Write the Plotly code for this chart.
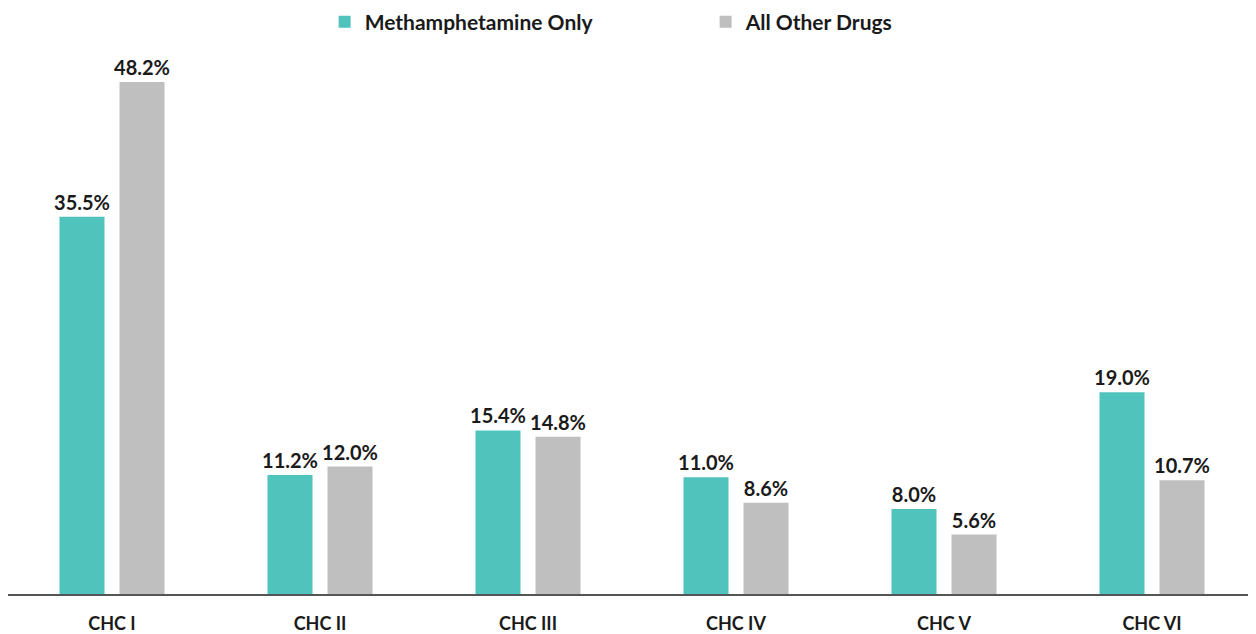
import plotly.graph_objects as go

categories = ["CHC I", "CHC II", "CHC III", "CHC IV", "CHC V", "CHC VI"]
meth_only = [35.5, 11.2, 15.4, 11.0, 8.0, 19.0]
all_other = [48.2, 12.0, 14.8, 8.6, 5.6, 10.7]
series_names = ["Methamphetamine Only", "All Other Drugs"]
colors = ["#50C3BC", "#BFBFBF"]

fig = go.Figure()
for name, vals, col in zip(series_names, [meth_only, all_other], colors):
    fig.add_trace(go.Bar(
        x=categories, y=vals, name=name,
        marker=dict(color=col, line=dict(width=0)),
        text=[f"{v:.1f}%" for v in vals], textposition="outside",
        constraintext="none",
        textfont=dict(family="Lato", size=20, color="#1a1a1a", weight="bold"),
        cliponaxis=False,
    ))

fig.update_layout(
    template="none",
    width=1248, height=626,
    margin=dict(l=0, r=0, t=42, b=40, autoexpand=False),
    paper_bgcolor="white", plot_bgcolor="white",
    barmode="group", bargap=0.423, bargroupgap=0.25,
    font=dict(family="Lato", size=18, color="#1a1a1a"),
    legend=dict(orientation="h", x=0.559, xanchor="center", yref="container",
                y=0.9776, yanchor="middle",
                font=dict(family="Lato", size=21, color="#1a1a1a", weight="bold"),
                entrywidth=336, itemwidth=30, traceorder="normal"),
    xaxis=dict(showline=True, linecolor="#555555", linewidth=2, ticks="outside",
               ticklen=12, tickcolor="rgba(0,0,0,0)", automargin=False,
               tickfont=dict(family="Lato", size=18, color="#1a1a1a", weight="bold"),
               showgrid=False, zeroline=False),
    yaxis=dict(range=[0, 51.2], visible=False, showgrid=False, zeroline=False),
    showlegend=True,
)
fig.write_html("out.html")
